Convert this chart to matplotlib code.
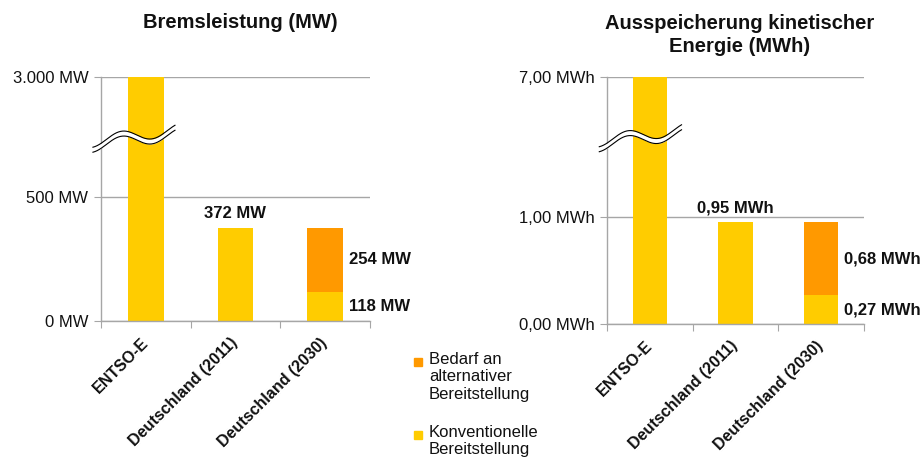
import numpy as np
import matplotlib.pyplot as plt
from matplotlib.patches import Rectangle

plt.rcParams['font.family'] = ['Liberation Sans', 'DejaVu Sans']

# data
categories = ['ENTSO-E', 'Deutschland (2011)', 'Deutschland (2030)']
mw_conv = [3000, 372, 118]
mw_alt = [0, 0, 254]
mwh_conv = [7.00, 0.95, 0.27]
mwh_alt = [0, 0, 0.68]

yellow = '#FFCC00'
orange = '#FF9900'
grey = '#A6A6A6'


def broken(lo, hi_eq, hi):
    # linear up to lo, compressed above so that hi lands at hi_eq
    k = (hi_eq - lo) / (hi - lo)

    def fwd(v):
        v = np.asarray(v, dtype=float)
        return np.where(v <= lo, v, lo + (v - lo) * k)

    def inv(u):
        u = np.asarray(u, dtype=float)
        return np.where(u <= lo, u, lo + (u - lo) / k)
    return fwd, inv


fig = plt.figure(figsize=(9.24, 4.62), dpi=100)
ax1 = fig.add_axes([101 / 924, 1 - 321 / 462, 269 / 924, 244 / 462])
ax2 = fig.add_axes([607 / 924, 1 - 324 / 462, 257 / 924, 247 / 462])

x = np.arange(len(categories))


def style(ax, ticks, ticklabels):
    ax.set_xlim(-0.5, 2.5)
    ax.set_yticks(ticks)
    ax.set_yticklabels(ticklabels, fontsize=12, color='#111111')
    ax.yaxis.set_minor_locator(plt.NullLocator())
    ax.grid(axis='y', color=grey, linewidth=1.0, zorder=0)
    ax.set_axisbelow(True)
    for s in ['top', 'right']:
        ax.spines[s].set_visible(False)
    for s in ['left', 'bottom']:
        ax.spines[s].set_color(grey)
        ax.spines[s].set_linewidth(1.0)
    ax.tick_params(axis='y', length=5, color=grey, pad=4)
    ax.set_xticks([-0.5, 0.5, 1.5, 2.5])
    ax.set_xticklabels([])
    ax.tick_params(axis='x', which='major', length=5, color=grey)
    ax.set_xticks(x, minor=True)
    ax.set_xticklabels(categories, minor=True, rotation=45, ha='right',
                       va='center', rotation_mode='anchor',
                       fontsize=11.5, fontweight='bold', color='#111111')
    ax.tick_params(axis='x', which='minor', length=0, pad=14)


def break_mark(ax, x0, x1, yc):
    # wavy axis-break symbol, drawn in axes fraction coordinates
    t = np.linspace(0, 1, 200)
    xs = x0 + (x1 - x0) * t
    px = ax.get_window_extent().height
    wave = (-11.7 * t + 5.8 - 6 * np.sin(2 * np.pi * (t - 0.165) / 0.74)) / px
    upper = yc - wave + 2.5 / px
    lower = yc - wave - 2.5 / px
    ax.fill_between(xs, lower, upper, color='white', transform=ax.transAxes,
                    clip_on=False, zorder=5, linewidth=0)
    ax.plot(xs, upper, color='black', lw=0.8, transform=ax.transAxes,
            clip_on=False, zorder=6)
    ax.plot(xs, lower, color='black', lw=0.8, transform=ax.transAxes,
            clip_on=False, zorder=6)


def value_labels(ax, top_text, seg_texts, conv, alt):
    ax.annotate(top_text, (x[1], conv[1]), xytext=(0, 5),
                textcoords='offset points', ha='center', va='bottom',
                fontsize=12, fontweight='bold', color='#111111')
    mids = [conv[2] + alt[2] / 2, conv[2] / 2]
    for txt, ym in zip(seg_texts, mids):
        ax.annotate(txt, (x[2] + 0.2, ym), xytext=(4, 0),
                    textcoords='offset points', ha='left', va='center',
                    fontsize=12, fontweight='bold', color='#111111')


# left: braking power
fwd, inv = broken(500, 980, 3000)
ax1.set_yscale('function', functions=(fwd, inv))
ax1.set_ylim(0, 3000)
ax1.bar(x, mw_conv, width=0.4, color=yellow, zorder=2)
ax1.bar(x, mw_alt, width=0.4, bottom=mw_conv, color=orange, zorder=2)
style(ax1, [0, 500, 3000], ['0 MW', '500 MW', '3.000 MW'])
break_mark(ax1, -0.03, 0.275, 0.75)
value_labels(ax1, f'{mw_conv[1]} MW',
             [f'{mw_alt[2]} MW', f'{mw_conv[2]} MW'], mw_conv, mw_alt)

# right: kinetic energy released
fwd, inv = broken(1.0, 2.308, 7.0)
ax2.set_yscale('function', functions=(fwd, inv))
ax2.set_ylim(0, 7)
ax2.bar(x, mwh_conv, width=0.4, color=yellow, zorder=2)
ax2.bar(x, mwh_alt, width=0.4, bottom=mwh_conv, color=orange, zorder=2)
style(ax2, [0, 1, 7], ['0,00 MWh', '1,00 MWh', '7,00 MWh'])
break_mark(ax2, -0.03, 0.29, 0.755)


def de(v):
    return f'{v:.2f}'.replace('.', ',') + ' MWh'


value_labels(ax2, de(mwh_conv[1]), [de(mwh_alt[2]), de(mwh_conv[2])],
             mwh_conv, mwh_alt)

# titles
fig.text(240 / 924, 1 - 22 / 462, 'Bremsleistung (MW)', ha='center',
         va='center', fontsize=14.5, fontweight='bold', color='#111111')
fig.text(740 / 924, 1 - 35 / 462, 'Ausspeicherung kinetischer\nEnergie (MWh)',
         ha='center', va='center', fontsize=14.5, fontweight='bold',
         color='#111111', linespacing=1.3)

# legend
legend_items = [('Bedarf an\nalternativer\nBereitstellung', orange, 362),
                ('Konventionelle\nBereitstellung', yellow, 435)]
for label, col, ypix in legend_items:
    fig.add_artist(Rectangle((414 / 924, 1 - (ypix + 4) / 462), 8 / 924, 8 / 462,
                             transform=fig.transFigure, color=col))
    fig.text(429 / 924, 1 - (ypix - 10) / 462, label, ha='left', va='top',
             fontsize=12, color='#111111', linespacing=1.2)

fig.savefig('out.png', dpi=100)
